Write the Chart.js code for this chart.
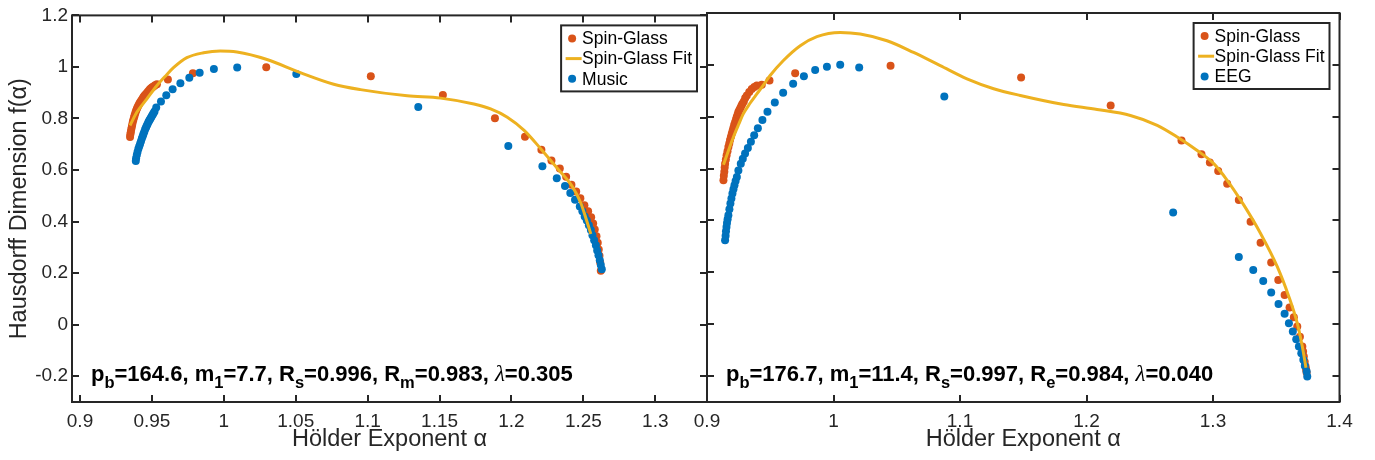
<!DOCTYPE html>
<html>
<head>
<meta charset="utf-8">
<script src="https://cdn.jsdelivr.net/npm/chart.js@4.4.0/dist/chart.umd.min.js"></script>
<style>
    html, body { margin: 0; padding: 0; background: #fff; }
    body { width: 1375px; height: 460px; position: relative; overflow: hidden; }
    .panel { position: absolute; top: 0; }
    #musicWrap { left: 0; }
    #eegWrap { left: 660px; }
</style>
</head>
<body>
<div class="panel" id="musicWrap"><canvas id="musicChart" width="720" height="460"></canvas></div>
<div class="panel" id="eegWrap"><canvas id="eegChart" width="715" height="460"></canvas></div>
<script>
// Axis ticks
const fTicks = [-0.2, 0, 0.2, 0.4, 0.6, 0.8, 1, 1.2];
const fTickLabels = ['-0.2', '0', '0.2', '0.4', '0.6', '0.8', '1', '1.2'];
const musicTicks = [0.9, 0.95, 1, 1.05, 1.1, 1.15, 1.2, 1.25, 1.3];
const musicTickLabels = ['0.9', '0.95', '1', '1.05', '1.1', '1.15', '1.2', '1.25', '1.3'];
const eegTicks = [0.9, 1, 1.1, 1.2, 1.3, 1.4];
const eegTickLabels = ['0.9', '1', '1.1', '1.2', '1.3', '1.4'];

// Music panel: spin-glass spectrum
const spinAlphaM = [0.9348, 0.9350, 0.9353, 0.9356, 0.9360, 0.9363, 0.9367, 0.9371, 0.9376, 0.9380,
    0.9385, 0.9390, 0.9395, 0.9400, 0.9406, 0.9412, 0.9418, 0.9425, 0.9432, 0.9439,
    0.9446, 0.9454, 0.9462, 0.9470, 0.9478, 0.9486, 0.9494, 0.9502, 0.9511, 0.9522,
    0.9535, 0.9611, 0.9785, 1.0295, 1.1022, 1.1523, 1.1885, 1.2094, 1.2208, 1.2278,
    1.2336, 1.2380, 1.2417, 1.2450, 1.2479, 1.2507, 1.2533, 1.2554, 1.2568, 1.2579,
    1.2591, 1.2600, 1.2607, 1.2612, 1.2617, 1.2621];
const spinFM = [0.728, 0.738, 0.747, 0.757, 0.767, 0.776, 0.786, 0.795, 0.805, 0.813,
    0.822, 0.830, 0.837, 0.844, 0.850, 0.857, 0.863, 0.869, 0.875, 0.881,
    0.887, 0.892, 0.897, 0.903, 0.908, 0.913, 0.917, 0.921, 0.924, 0.929,
    0.933, 0.951, 0.976, 0.999, 0.964, 0.891, 0.801, 0.729, 0.679, 0.637,
    0.606, 0.574, 0.543, 0.517, 0.491, 0.463, 0.440, 0.417, 0.393, 0.369,
    0.343, 0.318, 0.292, 0.267, 0.241, 0.209];

// Music panel: spin-glass fit
const fitAlphaM = [0.9348, 0.9395, 0.9464, 0.9534, 0.9600, 0.9650, 0.9743, 0.9859, 0.9975, 1.0091,
    1.0300, 1.0532, 1.0764, 1.0950, 1.1275, 1.1507, 1.1739, 1.1855, 1.1971, 1.2088,
    1.2203, 1.2320, 1.2423, 1.2482, 1.2517, 1.2552];
const fitFM = [0.773, 0.824, 0.875, 0.927, 0.968, 0.997, 1.036, 1.055, 1.062, 1.058,
    1.029, 0.978, 0.933, 0.912, 0.888, 0.879, 0.856, 0.837, 0.805, 0.754,
    0.683, 0.606, 0.536, 0.472, 0.414, 0.352];

// Music panel: music spectrum
const musicAlpha = [0.9388, 0.9390, 0.9395, 0.9400, 0.9406, 0.9412, 0.9418, 0.9424, 0.9430, 0.9436,
    0.9441, 0.9447, 0.9453, 0.9459, 0.9464, 0.9470, 0.9476, 0.9482, 0.9487, 0.9493,
    0.9499, 0.9505, 0.9511, 0.9518, 0.9530, 0.9563, 0.9600, 0.9644, 0.9698, 0.9760,
    0.9832, 0.9931, 1.0093, 1.0504, 1.1352, 1.1978, 1.2215, 1.2315, 1.2372, 1.2409,
    1.2442, 1.2475, 1.2493, 1.2509, 1.2524, 1.2538, 1.2552, 1.2563, 1.2575, 1.2587,
    1.2596, 1.2605, 1.2614, 1.2621, 1.2628];
const musicF = [0.635, 0.646, 0.658, 0.670, 0.683, 0.692, 0.702, 0.712, 0.722, 0.731,
    0.740, 0.749, 0.758, 0.765, 0.772, 0.779, 0.786, 0.792, 0.797, 0.803,
    0.809, 0.815, 0.820, 0.827, 0.843, 0.866, 0.890, 0.913, 0.937, 0.958,
    0.977, 0.992, 0.998, 0.973, 0.845, 0.693, 0.615, 0.568, 0.538, 0.511,
    0.485, 0.459, 0.440, 0.420, 0.404, 0.386, 0.367, 0.347, 0.328, 0.308,
    0.288, 0.269, 0.250, 0.232, 0.215];

// EEG panel: spin-glass spectrum
const spinAlphaE = [0.9130, 0.9133, 0.9137, 0.9140, 0.9143, 0.9149, 0.9155, 0.9162, 0.9169, 0.9176,
    0.9182, 0.9189, 0.9196, 0.9203, 0.9209, 0.9215, 0.9222, 0.9229, 0.9235, 0.9242,
    0.9248, 0.9256, 0.9264, 0.9272, 0.9280, 0.9291, 0.9302, 0.9315, 0.9334, 0.9354,
    0.9374, 0.9394, 0.9433, 0.9494, 0.9697, 1.0451, 1.1483, 1.2191, 1.2751, 1.2909,
    1.2975, 1.3041, 1.3112, 1.3204, 1.3297, 1.3376, 1.3460, 1.3516, 1.3566, 1.3605,
    1.3639, 1.3666, 1.3687, 1.3706, 1.3712, 1.3718, 1.3725, 1.3732, 1.3736, 1.3740];
const spinFE = [0.555, 0.572, 0.588, 0.604, 0.619, 0.635, 0.651, 0.667, 0.683, 0.697,
    0.710, 0.723, 0.735, 0.747, 0.758, 0.769, 0.779, 0.789, 0.799, 0.809,
    0.818, 0.826, 0.834, 0.842, 0.850, 0.859, 0.872, 0.882, 0.895, 0.907,
    0.915, 0.920, 0.923, 0.940, 0.968, 0.997, 0.951, 0.843, 0.708, 0.655,
    0.624, 0.591, 0.542, 0.479, 0.395, 0.314, 0.238, 0.170, 0.113, 0.064,
    0.027, -0.009, -0.048, -0.086, -0.105, -0.125, -0.145, -0.163, -0.175, -0.186];

// EEG panel: spin-glass fit
const fitAlphaE = [0.9130, 0.9170, 0.9209, 0.9250, 0.9288, 0.9340, 0.9394, 0.9450, 0.9499, 0.9604,
    0.9737, 0.9869, 1.0053, 1.0211, 1.0423, 1.0633, 1.0844, 1.1055, 1.1266, 1.1477,
    1.1820, 1.2084, 1.2347, 1.2559, 1.2717, 1.2875, 1.3006, 1.3112, 1.3244, 1.3376,
    1.3508, 1.3600, 1.3666, 1.3706, 1.3735];
const fitFE = [0.615, 0.670, 0.722, 0.770, 0.812, 0.852, 0.888, 0.925, 0.959, 1.017,
    1.074, 1.109, 1.125, 1.119, 1.093, 1.048, 0.997, 0.946, 0.908, 0.882,
    0.847, 0.828, 0.805, 0.767, 0.722, 0.670, 0.619, 0.555, 0.459, 0.350,
    0.222, 0.106, 0.004, -0.086, -0.168];

// EEG panel: EEG spectrum
const eegAlpha = [0.9143, 0.9147, 0.9150, 0.9154, 0.9158, 0.9163, 0.9169, 0.9177, 0.9185, 0.9193,
    0.9201, 0.9209, 0.9217, 0.9226, 0.9236, 0.9248, 0.9267, 0.9283, 0.9301, 0.9323,
    0.9347, 0.9373, 0.9402, 0.9438, 0.9478, 0.9536, 0.9602, 0.9681, 0.9766, 0.9855,
    0.9948, 1.0053, 1.0203, 1.0876, 1.2685, 1.3204, 1.3318, 1.3397, 1.3460, 1.3518,
    1.3566, 1.3600, 1.3631, 1.3658, 1.3679, 1.3698, 1.3714, 1.3726, 1.3740, 1.3745];
const eegF = [0.324, 0.341, 0.358, 0.375, 0.390, 0.405, 0.420, 0.443, 0.465, 0.485,
    0.504, 0.520, 0.536, 0.552, 0.568, 0.593, 0.619, 0.638, 0.658, 0.679,
    0.704, 0.729, 0.756, 0.787, 0.819, 0.855, 0.892, 0.927, 0.956, 0.980,
    0.993, 1.000, 0.990, 0.878, 0.431, 0.259, 0.209, 0.167, 0.122, 0.078,
    0.040, 0.004, -0.028, -0.058, -0.086, -0.112, -0.137, -0.160, -0.182, -0.202];

// Fit parameters printed in each panel: [symbol, subscript, rest]
const musicNote = [['p', 'b', '=164.6, '], ['m', '1', '=7.7, '], ['R', 's', '=0.996, '], ['R', 'm', '=0.983, '], ['λ', '', '=0.305']];
const eegNote = [['p', 'b', '=176.7, '], ['m', '1', '=11.4, '], ['R', 's', '=0.997, '], ['R', 'e', '=0.984, '], ['λ', '', '=0.040']];

const ink = '#262626';
const sans = '"Liberation Sans", Arial, Helvetica, sans-serif';
const orange = '#D95319';
const yellow = '#EDB120';
const blue = '#0072BD';

function pts(xs, ys) {
    return xs.map((x, i) => ({ x: x, y: ys[i] }));
}

// box round the axes with inward ticks on all four sides
const frame = {
    id: 'frame',
    afterDraw(chart) {
        const { ctx, chartArea: a, scales: { x, y } } = chart;
        ctx.save();
        ctx.strokeStyle = ink;
        ctx.lineWidth = 2;
        ctx.beginPath();
        x.ticks.forEach(t => {
            const px = Math.round(x.getPixelForValue(t.value));
            ctx.moveTo(px, a.bottom); ctx.lineTo(px, a.bottom - 7);
            ctx.moveTo(px, a.top); ctx.lineTo(px, a.top + 7);
        });
        y.ticks.forEach(t => {
            const py = Math.round(y.getPixelForValue(t.value));
            ctx.moveTo(a.left, py); ctx.lineTo(a.left + 7, py);
            ctx.moveTo(a.right, py); ctx.lineTo(a.right - 7, py);
        });
        ctx.stroke();
        ctx.strokeRect(a.left, a.top, a.right - a.left, a.bottom - a.top);
        ctx.restore();
    }
};

// boxed legend in the top right corner
const legendBox = {
    id: 'legendBox',
    afterDatasetsDraw(chart) {
        const { ctx, chartArea: a } = chart;
        const sets = chart.data.datasets;
        ctx.save();
        ctx.font = '17.5px ' + sans;
        const textW = Math.max(...sets.map(d => ctx.measureText(d.label).width));
        const w = 21 + textW + 5, h = 66;
        const bx = a.right - 10 - w, by = a.top + 10;
        ctx.fillStyle = '#fff';
        ctx.fillRect(bx, by, w, h);
        ctx.strokeStyle = ink;
        ctx.lineWidth = 2;
        ctx.strokeRect(bx, by, w, h);
        sets.forEach((d, i) => {
            const cy = by + 13 + i * 20.2;
            if (d.showLine) {
                ctx.strokeStyle = d.borderColor;
                ctx.lineWidth = 3;
                ctx.beginPath();
                ctx.moveTo(bx + 4.5, cy);
                ctx.lineTo(bx + 20.5, cy);
                ctx.stroke();
            } else {
                ctx.fillStyle = d.backgroundColor;
                ctx.beginPath();
                ctx.arc(bx + 11, cy, 4, 0, Math.PI * 2);
                ctx.fill();
            }
            ctx.fillStyle = '#000';
            ctx.textBaseline = 'middle';
            ctx.fillText(d.label, bx + 21, cy + 1);
        });
        ctx.restore();
    }
};

// fit parameters along the bottom of the axes
const note = {
    id: 'note',
    afterDatasetsDraw(chart, args, opts) {
        const { ctx, chartArea: a } = chart;
        const main = 'bold 22px ' + sans;
        const small = 'bold 16.5px ' + sans;
        let x = a.left + opts.dx;
        const base = opts.baseline;
        ctx.save();
        ctx.fillStyle = '#000';
        ctx.textBaseline = 'alphabetic';
        opts.parts.forEach(([sym, sub, rest]) => {
            ctx.font = sym === 'λ' ? 'italic 23px "Liberation Serif", serif' : main;
            ctx.fillText(sym, x, base);
            x += ctx.measureText(sym).width;
            if (sub) {
                ctx.font = small;
                ctx.fillText(sub, x, base + 7);
                x += ctx.measureText(sub).width;
            }
            ctx.font = main;
            ctx.fillText(rest, x, base);
            x += ctx.measureText(rest).width;
        });
        ctx.restore();
    }
};

function xScale(min, max, ticks, labels) {
    return {
        type: 'linear',
        min: min,
        max: max,
        grid: { display: false, drawTicks: false },
        border: { display: false },
        afterBuildTicks: s => { s.ticks = ticks.map(v => ({ value: v })); },
        afterFit: s => { s.height = 58; },
        ticks: {
            autoSkip: false,
            maxRotation: 0,
            padding: 8,
            color: ink,
            font: { family: sans, size: 19 },
            callback: (v, i) => labels[i]
        },
        title: {
            display: true,
            text: 'Hölder Exponent α',
            color: ink,
            font: { family: sans, size: 23.5 },
            padding: { top: 0, bottom: 6 }
        }
    };
}

function makeChart(id, otherLabel, spin, fit, other, x, showY, rightPad, parts) {
    return new Chart(document.getElementById(id), {
        type: 'scatter',
        data: {
            datasets: [{
                label: 'Spin-Glass',
                data: spin,
                backgroundColor: orange,
                pointRadius: 4,
                pointBorderWidth: 0,
                pointHoverRadius: 4,
                order: 2
            }, {
                label: 'Spin-Glass Fit',
                data: fit,
                showLine: true,
                borderColor: yellow,
                borderWidth: 3,
                pointRadius: 0,
                cubicInterpolationMode: 'monotone',
                order: 0
            }, {
                label: otherLabel,
                data: other,
                backgroundColor: blue,
                pointRadius: 4,
                pointBorderWidth: 0,
                pointHoverRadius: 4,
                order: 1
            }]
        },
        plugins: [frame, legendBox, note],
        options: {
            responsive: false,
            animation: false,
            devicePixelRatio: 1,
            layout: { padding: { top: 13, right: rightPad, left: 0, bottom: 0 } },
            plugins: {
                legend: { display: false },
                tooltip: { enabled: false },
                note: { parts: parts, dx: 19, baseline: 380.5 }
            },
            scales: {
                x: x,
                y: {
                    type: 'linear',
                    min: -0.3,
                    max: 1.2,
                    grid: { display: false, drawTicks: false },
                    border: { display: false },
                    afterBuildTicks: s => { s.ticks = fTicks.map(v => ({ value: v })); },
                    afterFit: s => { s.width = showY ? 72 : 47; },
                    ticks: {
                        display: showY,
                        padding: 4,
                        color: ink,
                        font: { family: sans, size: 19 },
                        callback: (v, i) => fTickLabels[i]
                    },
                    title: {
                        display: showY,
                        text: 'Hausdorff Dimension f(α)',
                        color: ink,
                        font: { family: sans, size: 23.5 },
                        padding: { top: 5, bottom: 0 }
                    }
                }
            }
        }
    });
}

const musicChart = makeChart('musicChart', 'Music',
    pts(spinAlphaM, spinFM), pts(fitAlphaM, fitFM), pts(musicAlpha, musicF),
    xScale(0.89444, 1.33595, musicTicks, musicTickLabels), true, 13, musicNote);

const eegChart = makeChart('eegChart', 'EEG',
    pts(spinAlphaE, spinFE), pts(fitAlphaE, fitFE), pts(eegAlpha, eegF),
    xScale(0.9, 1.4, eegTicks, eegTickLabels), false, 35.5, eegNote);
</script>
</body>
</html>
